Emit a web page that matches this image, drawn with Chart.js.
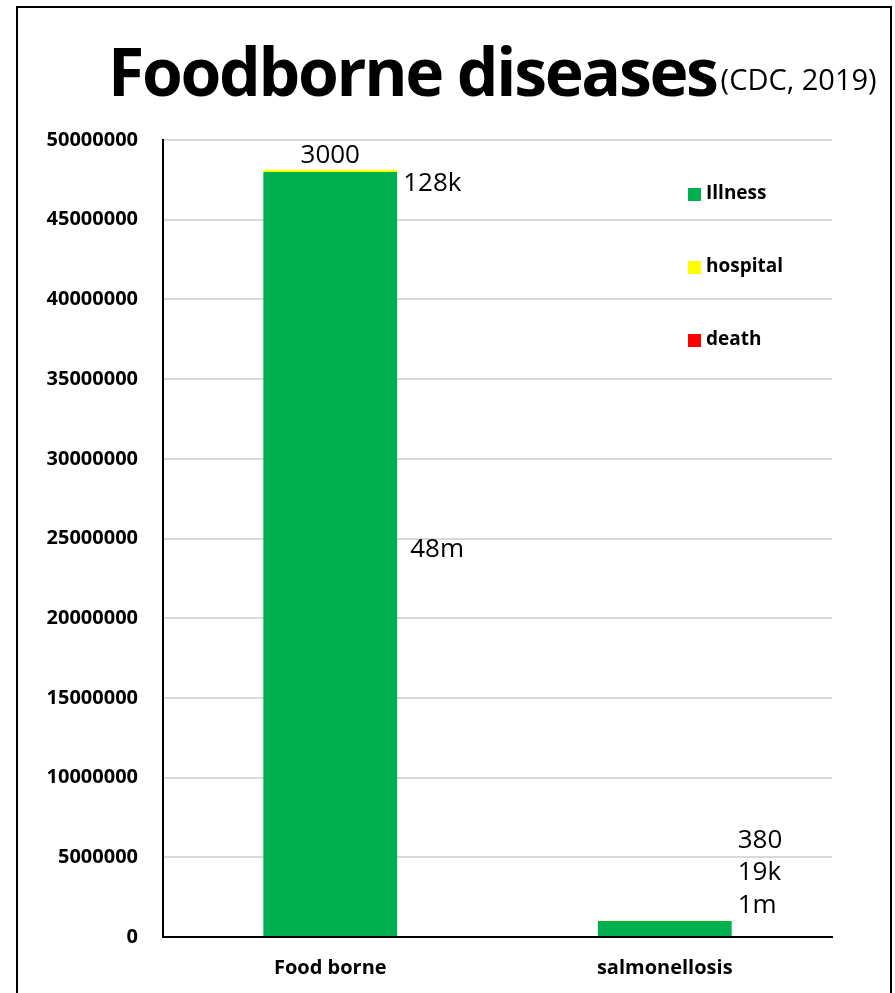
<!DOCTYPE html>
<html>
<head>
<meta charset="utf-8">
<title>Foodborne diseases</title>
<script src="https://cdn.jsdelivr.net/npm/chart.js@4.4.1/dist/chart.umd.min.js"></script>
<style>
  body { margin: 0; background: #fff; }
  canvas { display: block; }
</style>
</head>
<body>
<canvas id="myChart" width="895" height="993"></canvas>
<script>
// CDC 2019 figures
const categories = ['Food borne', 'salmonellosis'];
const illness = [48000000, 1000000];
const hospital = [128000, 19000];
const death = [3000, 380];

const illnessLabels = ['48m', '1m'];
const hospitalLabels = ['128k', '19k'];
const deathLabels = ['3000', '380'];

const yMax = 50000000;
const yStep = 5000000;

const FONT = "'Open Sans', 'DejaVu Sans', sans-serif";

// where each value label sits against its bar
const labelPlacement = [
  [{ side: 'right', at: 'middle', dx: 13, dy: -4 }, { side: 'right', at: 'top', dx: 6, dy: -15 }],
  [{ side: 'right', at: 'top', dx: 6, dy: 14 }, { side: 'right', at: 'top', dx: 6, dy: -48 }],
  [{ side: 'above', at: 'top', dx: 0, dy: -14 }, { side: 'right', at: 'top', dx: 6, dy: -80 }]
];

const valueLabels = {
  id: 'valueLabels',
  afterDatasetsDraw(chart) {
    const ctx = chart.ctx;
    ctx.save();
    ctx.font = '26px ' + FONT;
    ctx.fillStyle = '#000';
    ctx.textBaseline = 'middle';
    chart.data.datasets.forEach((ds, di) => {
      chart.getDatasetMeta(di).data.forEach((bar, i) => {
        const p = labelPlacement[di][i];
        const top = Math.min(bar.y, bar.base);
        const y = (p.at === 'middle' ? (bar.y + bar.base) / 2 : top) + p.dy;
        if (p.side === 'above') {
          ctx.textAlign = 'center';
          ctx.fillText(ds.valueLabels[i], bar.x + p.dx, y);
        } else {
          ctx.textAlign = 'left';
          ctx.fillText(ds.valueLabels[i], bar.x + bar.width / 2 + p.dx, y);
        }
      });
    });
    ctx.restore();
  }
};

const sideLegend = {
  id: 'sideLegend',
  afterDraw(chart) {
    const ctx = chart.ctx;
    const area = chart.chartArea;
    ctx.save();
    ctx.font = 'bold 19px ' + FONT;
    ctx.textBaseline = 'middle';
    ctx.textAlign = 'left';
    chart.data.datasets.forEach((ds, i) => {
      const x = area.right - 144;
      const y = area.top + 54 + i * 73;
      ctx.fillStyle = ds.backgroundColor;
      ctx.fillRect(x, y - 6, 13, 13);
      ctx.fillStyle = '#000';
      ctx.fillText(ds.label, x + 18, y);
    });
    ctx.restore();
  }
};

const frameAndTitle = {
  id: 'frameAndTitle',
  afterDraw(chart) {
    const ctx = chart.ctx;
    ctx.save();
    ctx.strokeStyle = '#000';
    ctx.lineWidth = 2;
    ctx.strokeRect(17, 7, 874, 1010);

    ctx.fillStyle = '#000';
    ctx.textBaseline = 'alphabetic';
    ctx.textAlign = 'left';
    ctx.font = 'bold 66px ' + FONT;
    ctx.letterSpacing = '-2.3px';
    ctx.fillText('Foodborne diseases', 108, 96);
    const w = ctx.measureText('Foodborne diseases').width;
    ctx.letterSpacing = '0px';
    ctx.font = '29px ' + FONT;
    ctx.fillText('(CDC, 2019)', 108 + w + 4, 90);
    ctx.restore();
  }
};

const ctx = document.getElementById('myChart');

const myChart = new Chart(ctx, {
  type: 'bar',
  data: {
    labels: categories,
    datasets: [
      { label: 'Illness', data: illness, backgroundColor: '#00b050', valueLabels: illnessLabels },
      { label: 'hospital', data: hospital, backgroundColor: '#ffff00', valueLabels: hospitalLabels },
      { label: 'death', data: death, backgroundColor: '#ff0000', valueLabels: deathLabels }
    ]
  },
  options: {
    responsive: false,
    animation: false,
    layout: { padding: { top: 140, left: 20, right: 63, bottom: 0 } },
    datasets: { bar: { categoryPercentage: 1, barPercentage: 0.4 } },
    plugins: {
      legend: { display: false },
      tooltip: { enabled: false },
      title: { display: false }
    },
    scales: {
      x: {
        stacked: true,
        grid: { display: false, drawTicks: false },
        border: { color: '#000', width: 2 },
        ticks: { color: '#000', font: { family: FONT, size: 20, weight: 'bold' }, padding: 19 },
        afterFit: (scale) => { scale.height = 56; }
      },
      y: {
        stacked: true,
        min: 0,
        max: yMax,
        grid: { color: '#d9d9d9', lineWidth: 2, drawTicks: false },
        border: { color: '#000', width: 2 },
        ticks: {
          stepSize: yStep,
          color: '#000',
          padding: 25,
          font: { family: FONT, size: 20, weight: 'bold' },
          callback: (v) => String(v)
        },
        afterFit: (scale) => { scale.width = 143; }
      }
    }
  },
  plugins: [valueLabels, sideLegend, frameAndTitle]
});
</script>
</body>
</html>
